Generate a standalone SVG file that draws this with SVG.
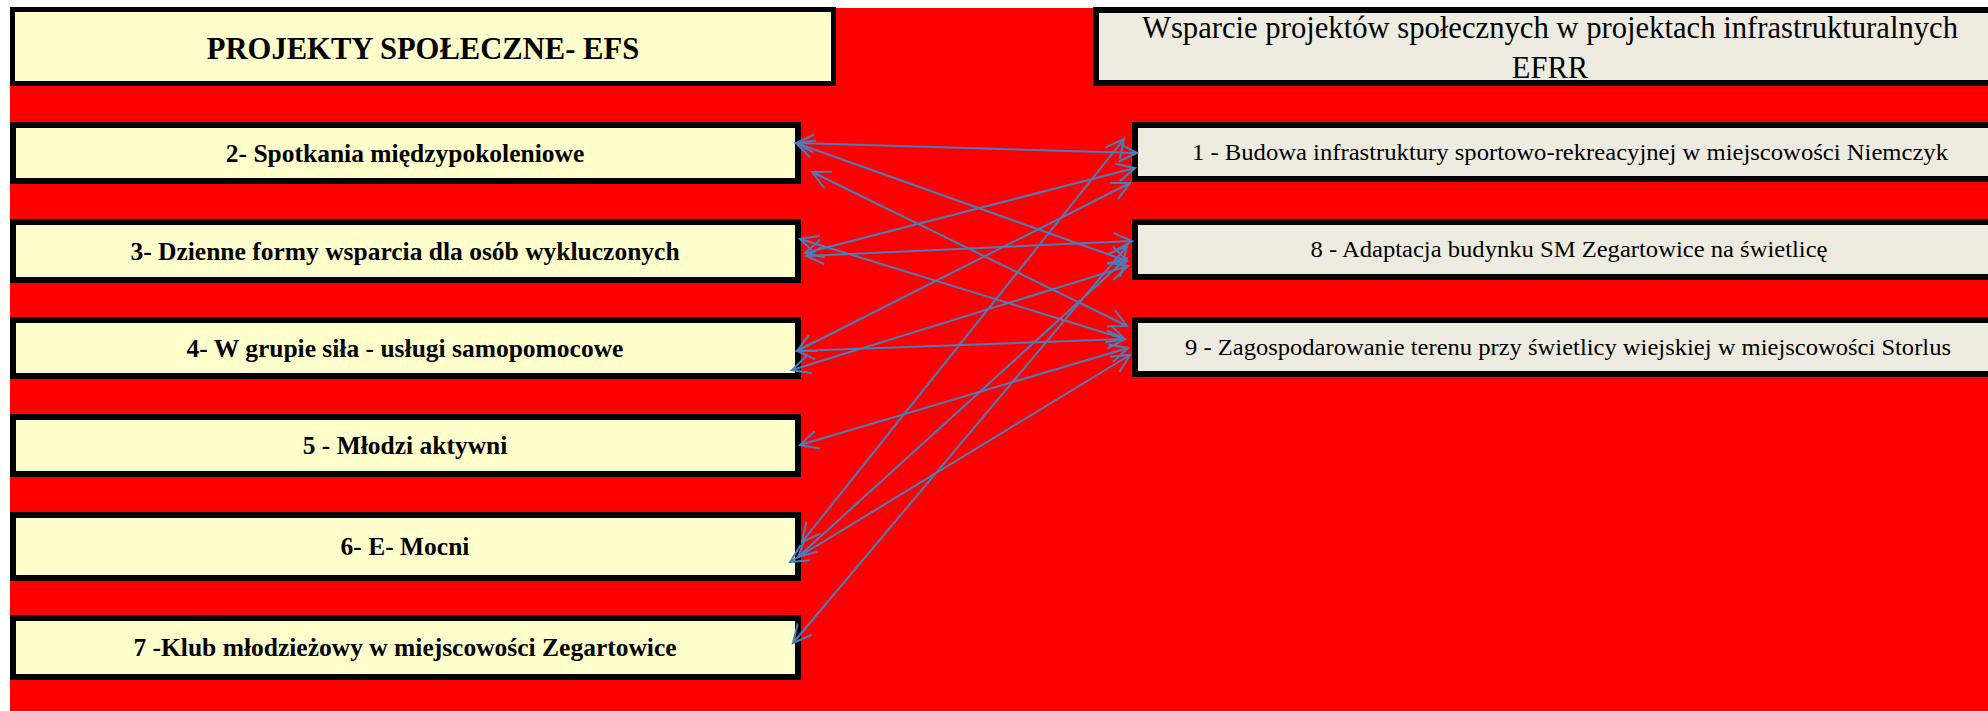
<svg xmlns="http://www.w3.org/2000/svg" width="1988" height="711" viewBox="0 0 1988 711">
<style>
.efs{fill:#FFFFCC;stroke:#000;stroke-width:6}
.efrr{fill:#EEECE1;stroke:#000;stroke-width:6}
.lb{font-family:"Liberation Serif","Times New Roman",serif;font-weight:bold;font-size:25.5px;fill:#000;text-anchor:middle}
.rt{font-family:"Liberation Serif","Times New Roman",serif;font-size:23.5px;fill:#000;text-anchor:middle}
.conn path{fill:none;stroke:#4A7EBB;stroke-width:2;marker-start:url(#ah);marker-end:url(#ah)}
</style>
<defs>
<marker id="ah" viewBox="-20 -11 22 22" refX="0" refY="0" markerWidth="22" markerHeight="22" markerUnits="userSpaceOnUse" orient="auto-start-reverse" overflow="visible">
<path d="M-18,-9 L0,0 L-18,9" fill="none" stroke="#4A7EBB" stroke-width="2"/>
</marker>
</defs>
<rect x="0" y="0" width="1988" height="711" fill="#FFFFFF"/>
<rect x="10" y="8" width="1978" height="703" fill="#FF0000"/>

<g id="hdr-efs">
<rect class="efs" x="12.5" y="9.5" width="821" height="74" style="stroke-width:5"/>
<text class="lb" x="423" y="59" style="font-size:30.6px">PROJEKTY SPOŁECZNE- EFS</text>
</g>
<g id="hdr-efrr">
<rect class="efrr" x="1096" y="10" width="920" height="73"/>
<text class="rt" x="1550" y="38" style="font-size:30.5px" textLength="816" lengthAdjust="spacingAndGlyphs">Wsparcie projektów społecznych w projektach infrastrukturalnych</text>
<text class="rt" x="1550" y="78" style="font-size:30.5px">EFRR</text>
</g>

<g id="n2"><rect class="efs" x="13" y="125" width="785" height="56"/><text class="lb" x="405" y="162">2- Spotkania międzypokoleniowe</text></g>
<g id="n3"><rect class="efs" x="13" y="222" width="785" height="58"/><text class="lb" x="405" y="260">3- Dzienne formy wsparcia dla osób wykluczonych</text></g>
<g id="n4"><rect class="efs" x="13" y="320" width="785" height="56"/><text class="lb" x="405" y="357">4- W grupie siła - usługi samopomocowe</text></g>
<g id="n5"><rect class="efs" x="13" y="417" width="785" height="57"/><text class="lb" x="405" y="454">5 - Młodzi aktywni</text></g>
<g id="n6"><rect class="efs" x="13" y="515" width="785" height="63"/><text class="lb" x="405" y="555">6- E- Mocni</text></g>
<g id="n7"><rect class="efs" x="13" y="618" width="785" height="59"/><text class="lb" x="405" y="656">7 -Klub młodzieżowy w miejscowości Zegartowice</text></g>

<g id="n1"><rect class="efrr" x="1135" y="125" width="880" height="54"/><text class="rt" x="1570" y="160" textLength="756" lengthAdjust="spacingAndGlyphs">1 - Budowa infrastruktury sportowo-rekreacyjnej w miejscowości Niemczyk</text></g>
<g id="n8"><rect class="efrr" x="1135" y="222" width="880" height="55"/><text class="rt" x="1569" y="257" textLength="517" lengthAdjust="spacingAndGlyphs">8 - Adaptacja budynku SM Zegartowice na świetlicę</text></g>
<g id="n9"><rect class="efrr" x="1135" y="320" width="880" height="54"/><text class="rt" x="1568" y="355" textLength="766" lengthAdjust="spacingAndGlyphs">9 - Zagospodarowanie terenu przy świetlicy wiejskiej w miejscowości Storlus</text></g>

<g id="connectors" class="conn">
<path d="M796,143 L1137,153"/>
<path d="M796,143 L1127,261"/>
<path d="M812,172 L1127,326"/>
<path d="M805,253 L1135,168"/>
<path d="M806,256 L1132,241"/>
<path d="M800,239 L1125,339"/>
<path d="M797,351 L1130,183"/>
<path d="M792,370 L1128,266"/>
<path d="M797,351 L1125,339"/>
<path d="M800,445 L1128,348"/>
<path d="M802,542 L1124,139"/>
<path d="M798,557 L1127,258"/>
<path d="M790,562 L1130,355"/>
<path d="M793,643 L1127,246"/>
</g>
</svg>
